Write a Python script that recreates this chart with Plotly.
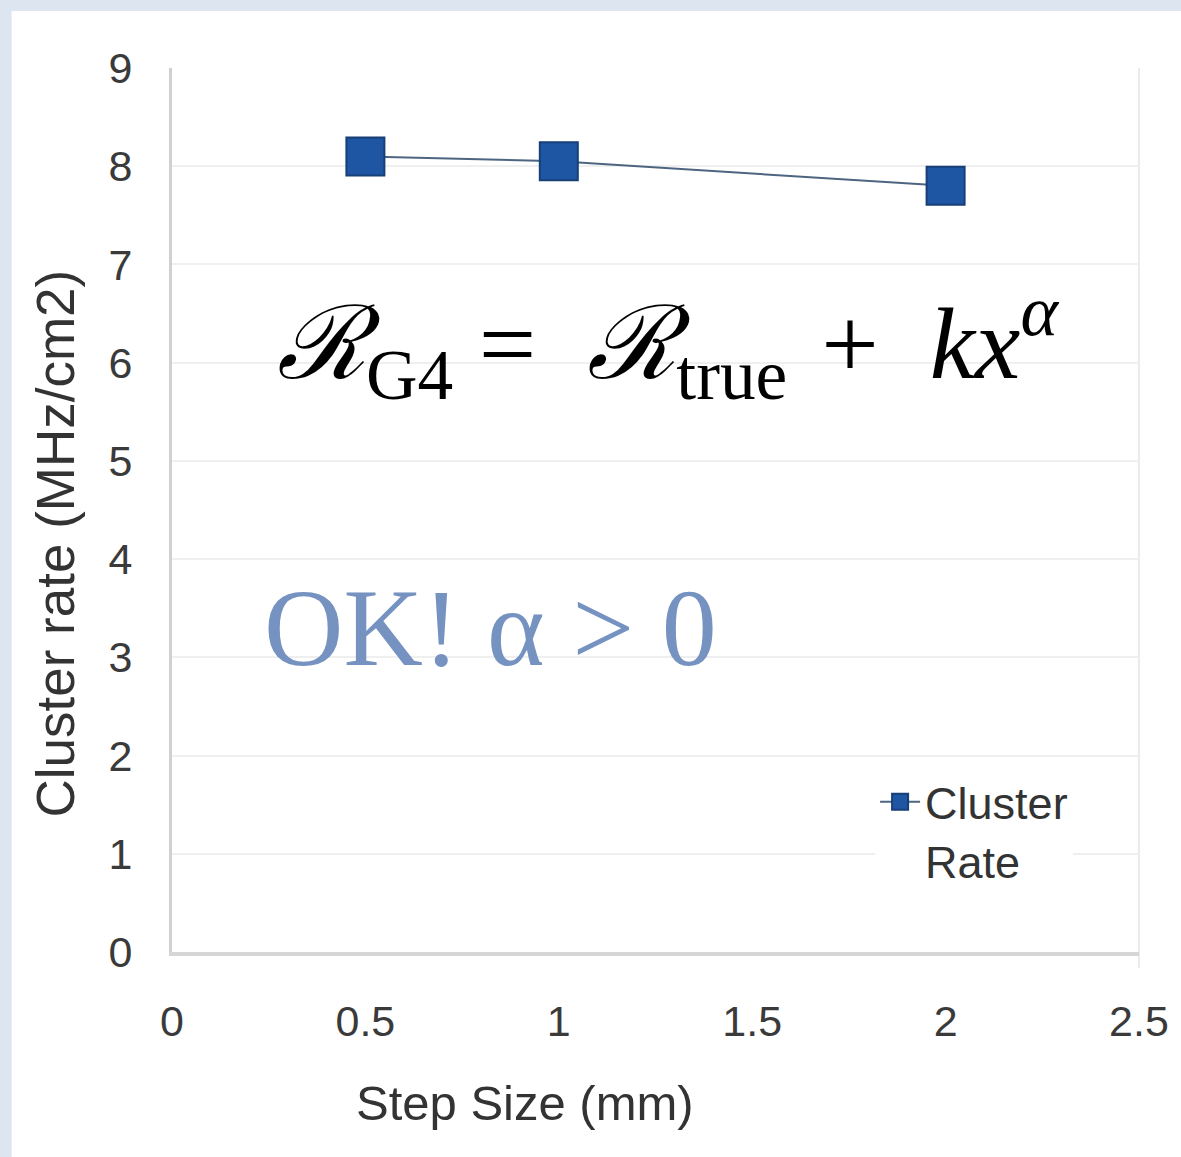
import plotly.graph_objects as go

# Data
step_size_mm = [0.5, 1.0, 2.0]
cluster_rate = [8.10, 8.05, 7.80]
series_name = "Cluster<br>Rate"
x_tick_vals = [0, 0.5, 1, 1.5, 2, 2.5]
y_tick_vals = [0, 1, 2, 3, 4, 5, 6, 7, 8, 9]
x_title = "Step Size (mm)"
y_title = "Cluster rate (MHz/cm2)"

W, H = 1181, 1157
ML, MR, MT, MB = 172, 38, 68, 205
pw, ph = W - ML - MR, H - MT - MB

fig = go.Figure()
fig.add_trace(go.Scatter(
    x=step_size_mm, y=cluster_rate, name=series_name,
    mode="lines+markers",
    line=dict(color="#4d6580", width=2),
    marker=dict(symbol="square", size=38, color="#1f56a3",
                line=dict(color="#173f78", width=2)),
))

def px_x(p):
    return (p - ML) / pw

def px_y(p):
    return (H - MB - p) / ph

shapes = [
    # white panel on blue background
    dict(type="rect", xref="paper", yref="paper", layer="below",
         x0=px_x(11), x1=px_x(W + 5), y0=px_y(H + 5), y1=px_y(11),
         fillcolor="white", line=dict(width=0)),
    # right frame line
    dict(type="line", xref="paper", yref="paper", layer="below",
         x0=1, x1=1, y0=px_y(968), y1=1,
         line=dict(color="#ebebeb", width=2)),
]

fig.update_layout(
    width=W, height=H,
    margin=dict(l=ML, r=MR, t=MT, b=MB),
    paper_bgcolor="#dde6f0",
    plot_bgcolor="white",
    font=dict(family="Liberation Sans, Arial, sans-serif", color="#333333"),
    shapes=shapes,
    showlegend=True,
    legend=dict(x=px_x(878), y=px_y(766), xanchor="left", yanchor="top",
                bgcolor="white", font=dict(size=45, color="#333333"),
                valign="top", itemwidth=40, tracegroupgap=0),
    xaxis=dict(range=[0, 2.5], tickvals=x_tick_vals, showgrid=False,
               zeroline=False, showline=True, linecolor="#d6d6d6", linewidth=4,
               ticks="", tickfont=dict(size=43, color="#3a3a3a"),
               ticklabelstandoff=28),
    yaxis=dict(range=[0, 9], tickvals=y_tick_vals, showgrid=True,
               gridcolor="#efefef", gridwidth=2,
               zeroline=False, showline=True, linecolor="#d0d0d0", linewidth=3,
               ticks="", tickfont=dict(size=43, color="#3a3a3a"),
               ticklabelstandoff=28),
)

# axis titles (positioned as in the reference)
fig.add_annotation(
    xref="paper", yref="paper", x=px_x(526), y=px_y(1103),
    xanchor="center", yanchor="middle", showarrow=False,
    text=x_title, font=dict(size=49, color="#333333"),
)
fig.add_annotation(
    xref="paper", yref="paper", x=px_x(55), y=px_y(543),
    xanchor="center", yanchor="middle", showarrow=False, textangle=-90,
    text=y_title, font=dict(size=53, color="#333333"),
)

en = "\u2002"
third = "\u2004"
small = "\u2005"
fig.add_annotation(
    xref="paper", yref="paper", x=px_x(275), y=px_y(342),
    xanchor="left", yanchor="middle", showarrow=False,
    text=("<i>ℛ</i><sub>G4</sub>" + small + "=" + en + "<i>ℛ</i><sub>true</sub>"
          + third + "+" + en + "<i>kx</i><sup><i>α</i></sup>"),
    font=dict(family="Liberation Serif, DejaVu Serif, serif", size=102, color="black"),
)
fig.add_annotation(
    xref="paper", yref="paper", x=px_x(262), y=px_y(628),
    xanchor="left", yanchor="middle", showarrow=False,
    text="OK! α > 0",
    font=dict(family="Liberation Serif, DejaVu Serif, serif", size=110, color="#7592c0"),
)

fig.write_html("out.html")
